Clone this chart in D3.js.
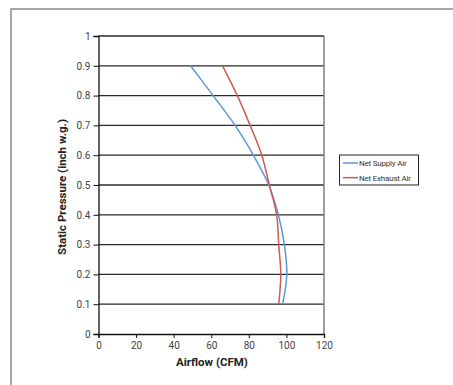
<!DOCTYPE html>
<html><head><meta charset="utf-8">
<script src="https://cdn.jsdelivr.net/npm/d3@7"></script>
<style>body{margin:0;background:#fff;}svg{display:block;font-family:Roboto,"DejaVu Sans",sans-serif;}</style>
</head><body><svg id="c" width="453" height="385"></svg>
<script>
const pressure = [0.9, 0.8, 0.7, 0.6, 0.5, 0.4, 0.3, 0.2, 0.1];
const supplyAir = [49, 61, 72.7, 82.4, 90.6, 95.7, 98.9, 100.2, 98];
const exhaustAir = [66, 73.9, 80.7, 86.9, 90.9, 94.8, 95.9, 97, 95.9];
const xTicks = [0, 20, 40, 60, 80, 100, 120];
const yTicks = [0, 0.1, 0.2, 0.3, 0.4, 0.5, 0.6, 0.7, 0.8, 0.9, 1];
const seriesNames = ["Net Supply Air", "Net Exhaust Air"];
const colors = ["#5a98d6", "#cf5a50"];

const svg = d3.select("#c");
svg.append("rect").attr("x", 11).attr("y", 9).attr("width", 460).attr("height", 400)
  .attr("fill", "none").attr("stroke", "#8a8a8a").attr("stroke-width", 1.5);

const L = 98.5, R = 324, T = 36, B = 334;
const x = d3.scaleLinear().domain([0, 120]).range([L, R]);
const y = d3.scaleLinear().domain([0, 1]).range([B, T]);

// gridlines
svg.append("g").selectAll("line").data(yTicks.filter(d => d > 0)).join("line")
  .attr("x1", L).attr("x2", R).attr("y1", d => y(d)).attr("y2", d => y(d))
  .attr("stroke", "#2a2a2a").attr("stroke-width", 1.3);
// right border
svg.append("line").attr("x1", R).attr("x2", R).attr("y1", T).attr("y2", B)
  .attr("stroke", "#808080").attr("stroke-width", 1.5);

const yAxis = svg.append("g").attr("transform", `translate(${L},0)`)
  .call(d3.axisLeft(y).tickValues(yTicks).tickSize(5).tickPadding(3).tickFormat(d => d3.format("")(+d.toFixed(1))));
const xAxis = svg.append("g").attr("transform", `translate(0,${B})`)
  .call(d3.axisBottom(x).tickValues(xTicks).tickSize(4).tickPadding(4));
[yAxis, xAxis].forEach(a => {
  a.select(".domain").attr("stroke", "#111").attr("stroke-width", 1.3);
  a.selectAll(".tick line").attr("stroke", "#111");
  a.selectAll("text").attr("font-size", 10).attr("fill", "#444").attr("font-family", "Roboto, sans-serif");
});

const line = d3.line().x(d => x(d[0])).y(d => y(d[1])).curve(d3.curveCatmullRom);
[supplyAir, exhaustAir].forEach((vals, i) => {
  svg.append("path").datum(vals.map((v, j) => [v, pressure[j]]))
    .attr("d", line).attr("fill", "none").attr("stroke", colors[i]).attr("stroke-width", 1.5);
});

svg.append("text").attr("x", 212).attr("y", 366).attr("text-anchor", "middle")
  .attr("font-size", 11.5).attr("font-weight", "bold").attr("fill", "#222").text("Airflow (CFM)");
svg.append("text").attr("transform", `translate(66,187) rotate(-90)`).attr("text-anchor", "middle")
  .attr("font-size", 11.5).attr("font-weight", "bold").attr("fill", "#222").text("Static Pressure (inch w.g.)");

// legend
const lg = svg.append("g");
lg.append("rect").attr("x", 339.5).attr("y", 155).attr("width", 79).attr("height", 30)
  .attr("fill", "#fff").attr("stroke", "#222").attr("stroke-width", 1);
seriesNames.forEach((n, i) => {
  const ly = 163 + i * 14.7;
  lg.append("line").attr("x1", 343).attr("x2", 358).attr("y1", ly).attr("y2", ly)
    .attr("stroke", colors[i]).attr("stroke-width", 1.5);
  lg.append("text").attr("x", 359).attr("y", ly + 3).attr("font-size", 8).attr("fill", "#333")
    .attr("letter-spacing", -0.2).text(n);
});
</script></body></html>
